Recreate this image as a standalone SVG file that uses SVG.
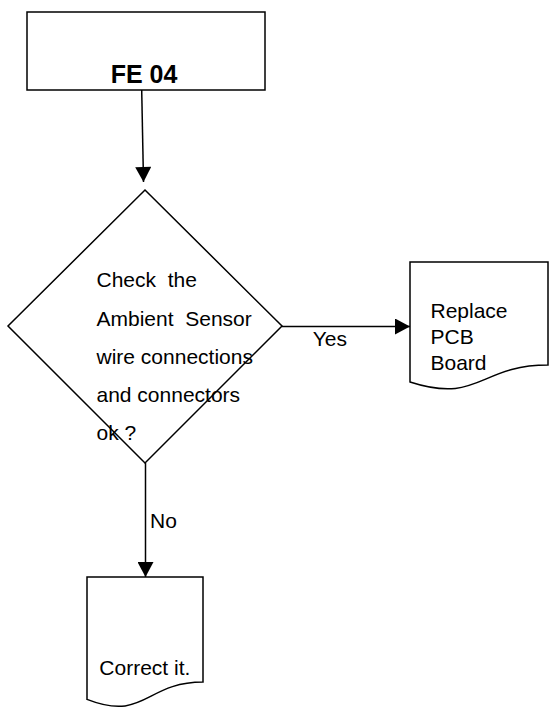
<svg xmlns="http://www.w3.org/2000/svg" width="556" height="719" viewBox="0 0 556 719">
<style>
.s{fill:#fff;stroke:#000;stroke-width:1.5}
.c{fill:none;stroke:#000;stroke-width:1.5}
.t{font-family:"Liberation Sans",Arial,sans-serif;font-size:21px;fill:#000;white-space:pre}
.b{font-family:"Liberation Sans",Arial,sans-serif;font-size:25px;font-weight:bold;fill:#000}
</style>
<defs>
<marker id="ah" markerUnits="userSpaceOnUse" markerWidth="16" markerHeight="16" viewBox="0 0 15 16" refX="15" refY="8" orient="auto">
<path d="M0,0 L15,8 L0,16 Z" fill="#000"/>
</marker>
</defs>
<rect width="556" height="719" fill="#fff"/>
<g id="n1">
<rect class="s" x="27" y="12" width="238" height="78"/>
<text class="b" x="144" y="83" text-anchor="middle">FE 04</text>
</g>
<g id="n2">
<path class="s" d="M145,190 L282,326 L145,463 L8,326 Z"/>
<text class="t" x="96.5" y="287.3">Check  the</text>
<text class="t" x="96.5" y="325.7">Ambient  Sensor</text>
<text class="t" x="96.5" y="364">wire connections</text>
<text class="t" x="96.5" y="402">and connectors</text>
<text class="t" x="96.5" y="440">ok ?</text>
</g>
<g id="n3">
<path class="s" d="M410,262 H548 V365.1 C479,365.1 479,404.3 410,382 Z"/>
<text class="t" x="430.5" y="318.3">Replace</text>
<text class="t" x="430.5" y="344.3">PCB</text>
<text class="t" x="430.5" y="369.5">Board</text>
</g>
<g id="n4">
<path class="s" d="M87,577 H203 V682.1 C145,682.1 145,722.1 87,699.4 Z"/>
<text class="t" x="99.3" y="675">Correct it.</text>
</g>
<g id="connectors">
<path class="c" d="M141.7,90 L143.5,182" marker-end="url(#ah)"/>
<path class="c" d="M282,326.5 L410,326.5" marker-end="url(#ah)"/>
<text class="t" x="312.7" y="346">Yes</text>
<path class="c" d="M145.5,463 L145.5,577" marker-end="url(#ah)"/>
<text class="t" x="150" y="527.7">No</text>
</g>
</svg>
